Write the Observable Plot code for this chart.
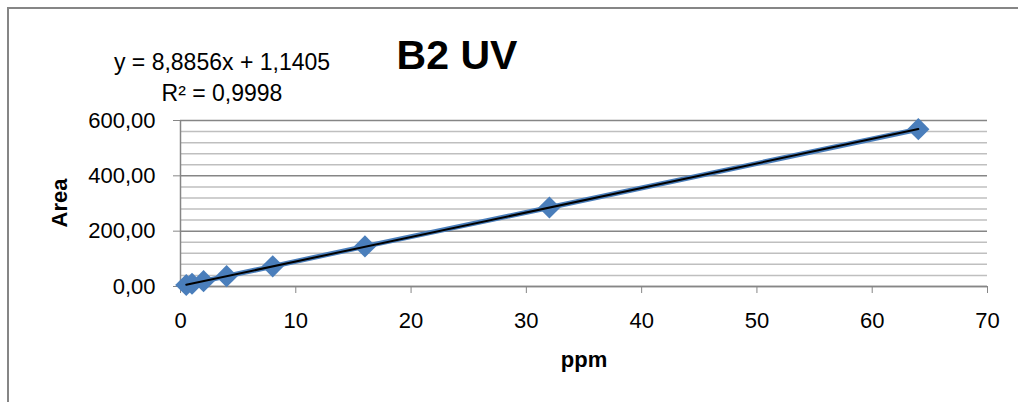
<!DOCTYPE html>
<html>
<head>
<meta charset="utf-8">
<script src="https://cdn.jsdelivr.net/npm/d3@7"></script>
<script src="https://cdn.jsdelivr.net/npm/@observablehq/plot@0.6"></script>
<style>
  html, body { margin: 0; padding: 0; background: #fff; overflow: hidden; }
  #wrap { position: relative; width: 1018px; height: 402px; overflow: hidden; font-family: "Liberation Sans", Arial, sans-serif; }
  #border { position: absolute; left: 7px; top: 7px; width: 1100px; height: 500px; border-left: 2px solid #868686; border-top: 2px solid #868686; }
  .ov { position: absolute; white-space: nowrap; color: #000; }
  #title { left: 457px; top: 32px; transform: translateX(-50%); font-size: 41px; font-weight: bold; }
  #eq1 { left: 222px; top: 49px; transform: translateX(-50%); font-size: 23px; }
  #eq2 { left: 222px; top: 80px; transform: translateX(-50%); font-size: 23px; }
  #xlab { left: 584px; top: 347px; transform: translateX(-50%); font-size: 22px; font-weight: bold; }
  #ylab { left: 60px; top: 203px; transform: translate(-50%, -50%) rotate(-90deg); font-size: 22px; font-weight: bold; }
  #chart { position: absolute; left: 0; top: 0; }
</style>
</head>
<body>
<div id="wrap">
  <div id="chart"></div>
  <div id="border"></div>
  <div class="ov" id="title"></div>
  <div class="ov" id="eq1"></div>
  <div class="ov" id="eq2"></div>
  <div class="ov" id="xlab"></div>
  <div class="ov" id="ylab"></div>
</div>
<script>
const titleText = "B2 UV";
const equationText = "y = 8,8856x + 1,1405";
const r2Text = "R² = 0,9998";
const xLabel = "ppm";
const yLabel = "Area";

const ppm = [0.5, 1, 2, 4, 8, 16, 32, 64];
const area = [5.5, 10.0, 19.4, 37.5, 72.8, 145.0, 285.5, 568.5];

const xTicks = [0, 10, 20, 30, 40, 50, 60, 70];
const yTicks = [0, 200, 400, 600];
const yMinorTicks = [40, 80, 120, 160, 240, 280, 320, 360, 440, 480, 520, 560];

const data = ppm.map((x, i) => ({x, y: area[i]}));
const fmt = d => d.toFixed(2).replace(".", ",");

document.getElementById("title").textContent = titleText;
document.getElementById("eq1").textContent = equationText;
document.getElementById("eq2").textContent = r2Text;
document.getElementById("xlab").textContent = xLabel;
document.getElementById("ylab").textContent = yLabel;

const blue = "#4A7EBB";
const gray = "#868686";

const chart = Plot.plot({
  width: 1018,
  height: 402,
  marginLeft: 180,
  marginRight: 31,
  marginTop: 120,
  marginBottom: 116,
  style: {fontFamily: "Liberation Sans, Arial, sans-serif", fontSize: "22px", background: "transparent", color: "#000"},
  x: {domain: [0, 70], label: null},
  y: {domain: [0, 600], label: null},
  marks: [
    Plot.gridY(yMinorTicks, {stroke: "#bfbfbf", strokeOpacity: 1, strokeWidth: 1.5}),
    Plot.gridY(yTicks, {stroke: gray, strokeOpacity: 1, strokeWidth: 1.5}),
    Plot.ruleX([0], {stroke: gray, strokeWidth: 1.5}),
    Plot.ruleY([0], {stroke: gray, strokeWidth: 1.5}),
    Plot.axisY(yTicks, {tickSize: 7, tickPadding: 18, tickFormat: fmt, stroke: gray, fill: "#000", fontSize: 22, label: null}),
    Plot.axisX(xTicks, {tickSize: 7, tickPadding: 19, stroke: gray, fill: "#000", fontSize: 22, label: null}),
    Plot.line(data, {x: "x", y: "y", stroke: blue, strokeWidth: 5}),
    Plot.dot(data, {x: "x", y: "y", symbol: "diamond2", r: 10, fill: blue, stroke: "none"}),
    Plot.linearRegressionY(data, {x: "x", y: "y", stroke: "#000", strokeWidth: 2, ci: 0})
  ]
});
document.getElementById("chart").appendChild(chart);
</script>
</body>
</html>
